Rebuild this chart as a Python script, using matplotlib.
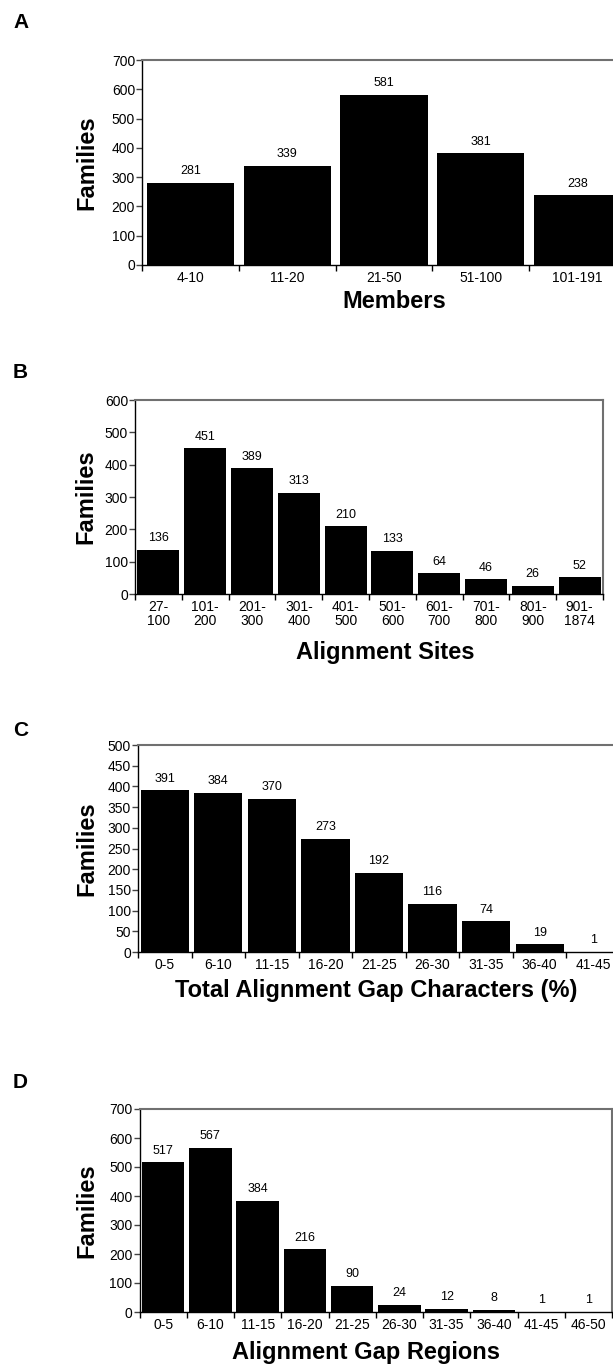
import matplotlib
matplotlib.use("Agg")
import matplotlib.pyplot as plt
import numpy as np

plt.rcParams['font.family'] = ['Liberation Sans', 'DejaVu Sans']

# panel A
members_cats = ['4-10', '11-20', '21-50', '51-100', '101-191']
members_vals = [281, 339, 581, 381, 238]

# panel B
sites_cats = ['27-\n100', '101-\n200', '201-\n300', '301-\n400', '401-\n500',
              '501-\n600', '601-\n700', '701-\n800', '801-\n900', '901-\n1874']
sites_vals = [136, 451, 389, 313, 210, 133, 64, 46, 26, 52]

# panel C
gapchar_cats = ['0-5', '6-10', '11-15', '16-20', '21-25', '26-30', '31-35', '36-40', '41-45']
gapchar_vals = [391, 384, 370, 273, 192, 116, 74, 19, 1]

# panel D
gapreg_cats = ['0-5', '6-10', '11-15', '16-20', '21-25', '26-30', '31-35', '36-40', '41-45', '46-50']
gapreg_vals = [517, 567, 384, 216, 90, 24, 12, 8, 1, 1]

W, H = 613, 1364


def px_axes(fig, left, right, top, bottom):
    return fig.add_axes([left / W, 1 - bottom / H, (right - left) / W, (bottom - top) / H])


def draw_panel(fig, box, cats, vals, ymax, ystep, letter, letter_y, xlabel, xlabel_pos, ylabel_x):
    ax = px_axes(fig, *box)
    n = len(cats)
    x = np.arange(n)
    ax.bar(x, vals, width=0.9, color='black', edgecolor='none', zorder=2)
    for xi, v in zip(x, vals):
        ax.annotate(str(v), (xi, v), xytext=(0, 4), textcoords='offset points',
                    ha='center', va='bottom', fontsize=9)
    ax.set_xlim(-0.5, n - 0.5)
    ax.set_ylim(0, ymax)
    ax.set_yticks(np.arange(0, ymax + 1, ystep))
    ax.set_xticks(np.arange(-0.5, n, 1.0))
    ax.set_xticklabels([])
    ax.set_xticks(x, minor=True)
    ax.set_xticklabels(cats, minor=True, fontsize=10, linespacing=1.05)
    ax.tick_params(axis='x', which='major', length=4, width=1, direction='out', color='black')
    ax.tick_params(axis='x', which='minor', length=0, pad=4)
    ax.tick_params(axis='y', length=4, width=1, color='#444444', labelsize=10, pad=1)
    for s in ['top', 'right']:
        ax.spines[s].set_color('#707070')
        ax.spines[s].set_linewidth(1.5)
    for s in ['left', 'bottom']:
        ax.spines[s].set_color('black')
        ax.spines[s].set_linewidth(1.0)
    top, bottom = box[2], box[3]
    fig.text(ylabel_x / W, 1 - (top + bottom) / 2 / H, 'Families', rotation=90,
             ha='center', va='center', fontsize=17, fontweight='bold')
    fig.text(xlabel_pos[0] / W, 1 - xlabel_pos[1] / H, xlabel,
             ha='center', va='center', fontsize=17, fontweight='bold')
    fig.text(13 / W, 1 - letter_y / H, letter, ha='left', va='center',
             fontsize=15, fontweight='bold')
    return ax


def main():
    fig = plt.figure(figsize=(W / 100, H / 100), dpi=100)
    draw_panel(fig, (142, 626, 60, 265), members_cats, members_vals, 700, 100,
               'A', 23, 'Members', (394, 302), 87)
    draw_panel(fig, (135, 603, 400, 594), sites_cats, sites_vals, 600, 100,
               'B', 372, 'Alignment Sites', (385, 652), 86)
    draw_panel(fig, (138, 620, 745, 952), gapchar_cats, gapchar_vals, 500, 50,
               'C', 730, 'Total Alignment Gap Characters (%)', (376, 990), 87)
    draw_panel(fig, (139.5, 612, 1109, 1312), gapreg_cats, gapreg_vals, 700, 100,
               'D', 1083, 'Alignment Gap Regions', (366, 1352), 87)
    fig.savefig('out.png', dpi=100)


if __name__ == "__main__":
    main()
